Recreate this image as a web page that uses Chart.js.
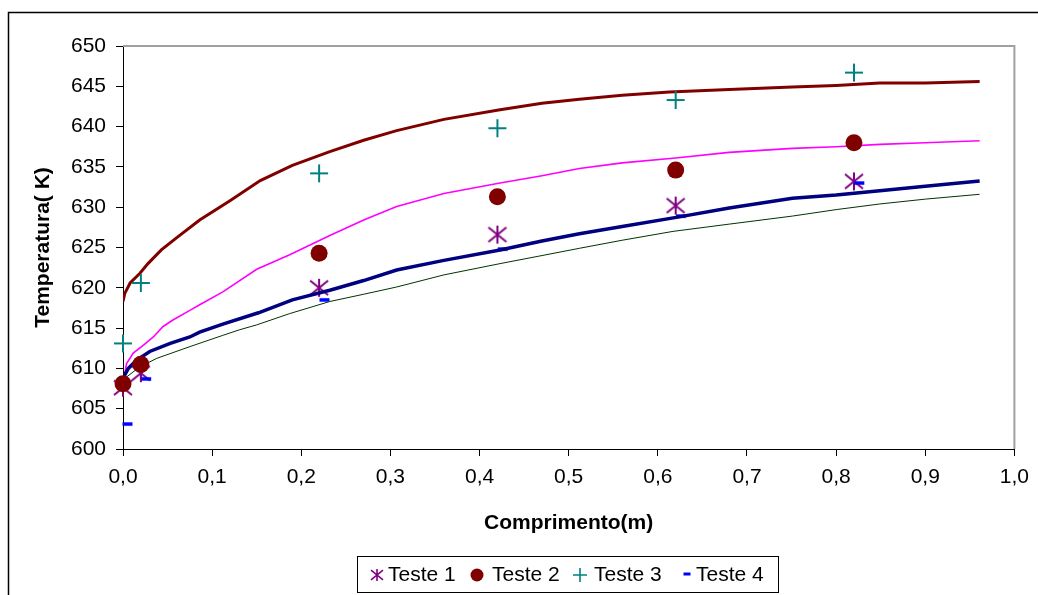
<!DOCTYPE html>
<html>
<head>
<meta charset="utf-8">
<script src="https://cdn.jsdelivr.net/npm/chart.js@4.4.1/dist/chart.umd.min.js"></script>
<style>
  html, body { margin: 0; padding: 0; background: #fff; }
  #wrap { width: 1038px; height: 595px; }
</style>
</head>
<body>
<div id="wrap"><canvas id="c" width="1038" height="595"></canvas></div>
<script>
// Measured temperatures along the tube length (m -> K)
const measX   = [0.00, 0.02, 0.22, 0.42, 0.62, 0.82];
const teste1  = [607.6, 609.4, 620.0, 626.6, 630.2, 633.2];
const teste2  = [608.1, 610.5, 624.3, 631.3, 634.6, 638.0];
const teste3  = [613.1, 620.6, 634.2, 639.8, 643.3, 646.7];
const teste4X = [0.005, 0.026, 0.226, 0.426, 0.626, 0.826];
const teste4  = [603.1, 608.7, 618.5, 624.8, 628.9, 633.0];

// Simulated profiles
const curveAX = [0, 0.002, 0.008, 0.019, 0.028, 0.043, 0.06, 0.086, 0.12, 0.154, 0.19, 0.232, 0.27, 0.307, 0.36, 0.423, 0.47, 0.512, 0.56, 0.613, 0.68, 0.751, 0.8, 0.849, 0.9, 0.961];
const curveA  = [618.3, 619.3, 620.6, 621.8, 623.0, 624.7, 626.2, 628.4, 630.8, 633.3, 635.2, 636.9, 638.3, 639.5, 640.9, 642.1, 642.9, 643.4, 643.9, 644.3, 644.6, 644.9, 645.1, 645.4, 645.4, 645.6];

const curveBX = [0, 0.004, 0.0115, 0.023, 0.034, 0.045, 0.056, 0.075, 0.086, 0.112, 0.15, 0.187, 0.232, 0.27, 0.307, 0.36, 0.423, 0.47, 0.512, 0.56, 0.62, 0.68, 0.751, 0.8, 0.849, 0.9, 0.961];
const curveB  = [608.2, 610.6, 611.9, 612.9, 613.9, 615.2, 616.0, 617.2, 617.9, 619.5, 622.3, 624.1, 626.5, 628.4, 630.1, 631.7, 633.0, 633.9, 634.8, 635.5, 636.1, 636.8, 637.3, 637.5, 637.8, 638.0, 638.25];

const curveCX = [0, 0.006, 0.015, 0.03, 0.053, 0.075, 0.086, 0.112, 0.152, 0.19, 0.232, 0.27, 0.307, 0.36, 0.423, 0.47, 0.512, 0.56, 0.624, 0.68, 0.751, 0.8, 0.849, 0.9, 0.961];
const curveC  = [608.8, 610.0, 611.0, 612.1, 613.1, 613.9, 614.5, 615.5, 616.9, 618.5, 619.7, 620.9, 622.2, 623.4, 624.7, 625.8, 626.7, 627.6, 628.8, 629.9, 631.1, 631.5, 632.05, 632.6, 633.25];

const curveDX = [0, 0.019, 0.038, 0.075, 0.112, 0.131, 0.15, 0.187, 0.232, 0.27, 0.307, 0.36, 0.423, 0.47, 0.512, 0.56, 0.617, 0.68, 0.751, 0.8, 0.849, 0.9, 0.961];
const curveD  = [608.6, 610.2, 611.25, 612.7, 614.1, 614.8, 615.4, 616.8, 618.3, 619.2, 620.1, 621.6, 623.0, 624.0, 624.9, 625.9, 627.0, 627.9, 628.9, 629.7, 630.4, 631.0, 631.6];

const legendLabels = ['Teste 1', 'Teste 2', 'Teste 3', 'Teste 4'];

const FONT = "Arial, 'Liberation Sans', sans-serif";
const C_T1 = '#800080', C_T2 = '#800000', C_T3 = '#008080', C_T4 = '#0000ff';

function pts(xs, ys) { return xs.map((x, i) => ({ x: x, y: ys[i] })); }

// marker painters
function drawAsterisk(ctx, cx, cy, r, color, lw) {
  ctx.save();
  ctx.strokeStyle = color; ctx.lineWidth = lw; ctx.lineCap = 'butt';
  ctx.beginPath();
  ctx.moveTo(cx, cy - r); ctx.lineTo(cx, cy + r);
  ctx.moveTo(cx - r, cy - r * 0.8); ctx.lineTo(cx + r, cy + r * 0.8);
  ctx.moveTo(cx - r, cy + r * 0.8); ctx.lineTo(cx + r, cy - r * 0.8);
  ctx.stroke();
  ctx.restore();
}
function drawPlus(ctx, cx, cy, r, color, lw) {
  ctx.save();
  ctx.strokeStyle = color; ctx.lineWidth = lw;
  ctx.beginPath();
  ctx.moveTo(cx - r, cy); ctx.lineTo(cx + r, cy);
  ctx.moveTo(cx, cy - r); ctx.lineTo(cx, cy + r);
  ctx.stroke();
  ctx.restore();
}
function drawDash(ctx, cx, cy, w, h, color) {
  ctx.save();
  ctx.fillStyle = color;
  ctx.fillRect(cx - w / 2, cy - h / 2, w, h);
  ctx.restore();
}
function drawDot(ctx, cx, cy, r, color) {
  ctx.save();
  ctx.fillStyle = color;
  ctx.beginPath(); ctx.arc(cx, cy, r, 0, Math.PI * 2); ctx.fill();
  ctx.restore();
}
function markerCanvas(w, h, paint) {
  const cv = document.createElement('canvas');
  cv.width = w; cv.height = h;
  paint(cv.getContext('2d'), w / 2, h / 2);
  return cv;
}
const asteriskImg = markerCanvas(22, 22, (g, cx, cy) => drawAsterisk(g, cx, cy, 9, C_T1, 2));
const plusImg     = markerCanvas(22, 22, (g, cx, cy) => drawPlus(g, cx, cy, 9, C_T3, 2));
const dashImg     = markerCanvas(12, 6,  (g, cx, cy) => drawDash(g, cx, cy, 10, 3.5, C_T4));

const framePlugin = {
  id: 'frame',
  beforeDraw(chart) {
    const ctx = chart.ctx;
    ctx.save();
    ctx.fillStyle = '#fff';
    ctx.fillRect(0, 0, chart.width, chart.height);
    ctx.strokeStyle = '#000';
    ctx.lineWidth = 1.5;
    ctx.strokeRect(8.5, 12.5, chart.width + 20, chart.height + 20);
    ctx.restore();
  },
  beforeDatasetsDraw(chart) {
    const a = chart.chartArea, ctx = chart.ctx;
    ctx.save();
    ctx.strokeStyle = '#a0a0a0';
    ctx.lineWidth = 2;
    ctx.beginPath();
    ctx.moveTo(a.left, a.top);
    ctx.lineTo(a.right, a.top);
    ctx.lineTo(a.right, a.bottom);
    ctx.stroke();
    ctx.restore();
  }
};

const legendPlugin = {
  id: 'boxLegend',
  afterDraw(chart) {
    const ctx = chart.ctx;
    ctx.save();
    ctx.strokeStyle = '#000';
    ctx.lineWidth = 1;
    ctx.strokeRect(357.5, 556.5, 421, 36);
    const cy = 575;
    drawAsterisk(ctx, 377, cy, 6, C_T1, 1.6);
    drawDot(ctx, 477, cy, 6.5, C_T2);
    drawPlus(ctx, 580, cy, 7, C_T3, 1.6);
    drawDash(ctx, 687, cy - 1, 7, 3, C_T4);
    ctx.fillStyle = '#000';
    ctx.font = '21px ' + FONT;
    ctx.textBaseline = 'middle';
    ctx.textAlign = 'left';
    const tx = [388, 492, 594, 696];
    legendLabels.forEach((t, i) => ctx.fillText(t, tx[i], cy));
    ctx.restore();
  }
};

const lineDs = (xs, ys, color, w, order) => ({
  data: pts(xs, ys), showLine: true, borderColor: color, borderWidth: w,
  pointRadius: 0, pointHoverRadius: 0, tension: 0, fill: false, order: order
});

new Chart(document.getElementById('c'), {
  type: 'scatter',
  data: {
    datasets: [
      { label: legendLabels[0], data: pts(measX, teste1), pointStyle: asteriskImg, pointRadius: 9, order: 10, clip: false },
      { label: legendLabels[3], data: pts(teste4X, teste4), pointStyle: dashImg, pointRadius: 5, order: 9, clip: false },
      lineDs(curveDX, curveD, '#003300', 1, 6),
      lineDs(curveBX, curveB, '#ff00ff', 1.6, 5),
      lineDs(curveCX, curveC, '#000080', 3.5, 4),
      lineDs(curveAX, curveA, '#800000', 3, 3),
      { label: legendLabels[1], data: pts(measX, teste2), pointStyle: 'circle', pointRadius: 8.5,
        backgroundColor: C_T2, borderColor: C_T2, borderWidth: 0, order: 1, clip: false },
      { label: legendLabels[2], data: pts(measX, teste3), pointStyle: plusImg, pointRadius: 9, order: 0, clip: false }
    ]
  },
  options: {
    responsive: false,
    animation: false,
    events: [],
    layout: { padding: { left: 0, top: 46, right: 23, bottom: 46 } },
    plugins: { legend: { display: false }, tooltip: { enabled: false } },
    scales: {
      x: {
        type: 'linear', min: 0, max: 1,
        ticks: {
          stepSize: 0.1, color: '#000', padding: 9,
          font: { family: FONT, size: 21 },
          callback: v => v.toFixed(1).replace('.', ',')
        },
        grid: { drawOnChartArea: false, tickLength: 7, color: '#000', lineWidth: 1 },
        border: { display: true, color: '#000', width: 1 },
        title: { display: true, text: 'Comprimento(m)', color: '#000',
                 font: { family: FONT, size: 21, weight: 'bold' }, padding: { top: 0, bottom: 13 } },
        afterFit: s => { s.height = 100; }
      },
      y: {
        type: 'linear', min: 600, max: 650,
        ticks: { stepSize: 5, color: '#000', padding: 10, font: { family: FONT, size: 21 } },
        grid: { drawOnChartArea: false, tickLength: 7, color: '#000', lineWidth: 1 },
        border: { display: true, color: '#000', width: 1 },
        title: { display: true, text: 'Temperatura( K)', color: '#000',
                 font: { family: FONT, size: 21, weight: 'bold' }, padding: { top: 31, bottom: 0 } },
        afterFit: s => { s.width = 123; }
      }
    }
  },
  plugins: [framePlugin, legendPlugin]
});
</script>
</body>
</html>
